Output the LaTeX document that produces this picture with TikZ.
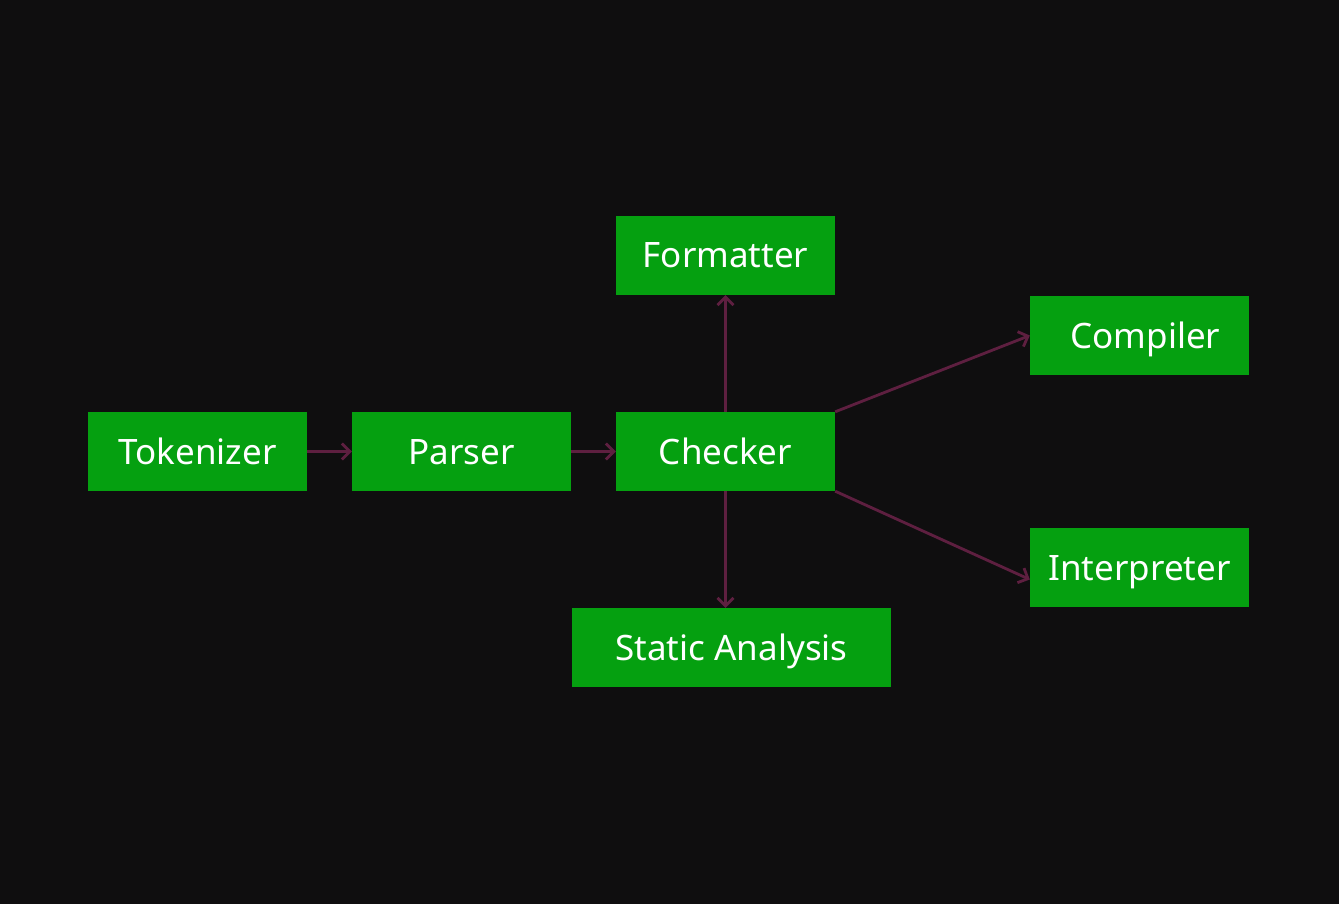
\documentclass[tikz,border=0pt]{standalone}
\usepackage{fontspec}
\setmainfont{Noto Sans}
\usepackage{tikz}
\usetikzlibrary{arrows.meta}

\definecolor{bgdark}{HTML}{0F0E0F}
\definecolor{boxgreen}{HTML}{05A010}
\definecolor{linkred}{HTML}{5E1F40}

\tikzset{
  stage/.style={fill=boxgreen, text=white, inner sep=0pt, minimum width=219pt,
    minimum height=79pt, text height=25pt, text depth=0pt,
    font=\fontsize{35}{40}\selectfont},
  link/.style={draw=linkred, line width=2.8pt, -{Straight Barb[length=8pt,width=16pt,line width=2.8pt]}}
}

\begin{document}
\begin{tikzpicture}[x=1pt,y=1pt]
\fill[bgdark] (0,0) rectangle (1339,-904);
\useasboundingbox (0,0) rectangle (1339,-904);
% Drawing stages
\node[stage] (tok) at (197.5,-451.5) {Tokenizer};
\node[stage] (par) at (461.5,-451.5) {Parser};
\node[stage] (chk) at (725.5,-451.5) {Checker};
\node[stage] (fmt) at (725.5,-255.5) {Formatter};
\node[stage] (cmp) at (1139.5,-335.5) {\hspace{12pt}Compiler};
\node[stage] (itp) at (1139.5,-567.5) {Interpreter};
\node[stage, minimum width=319pt] (sta) at (731.5,-647.5) {Static Analysis};
% Done with stages; drawing links
\draw[link] (tok) -- (par);
\draw[link] (par) -- (chk);
\draw[link] (chk.north) -- (fmt.south);
\draw[link] (chk.south) -- (chk.south |- sta.north);
\draw[link] (chk.north east) -- (cmp.west);
\draw[link] (chk.south east) -- ([yshift=-12pt]itp.west);
% Done with links
\end{tikzpicture}
\end{document}
